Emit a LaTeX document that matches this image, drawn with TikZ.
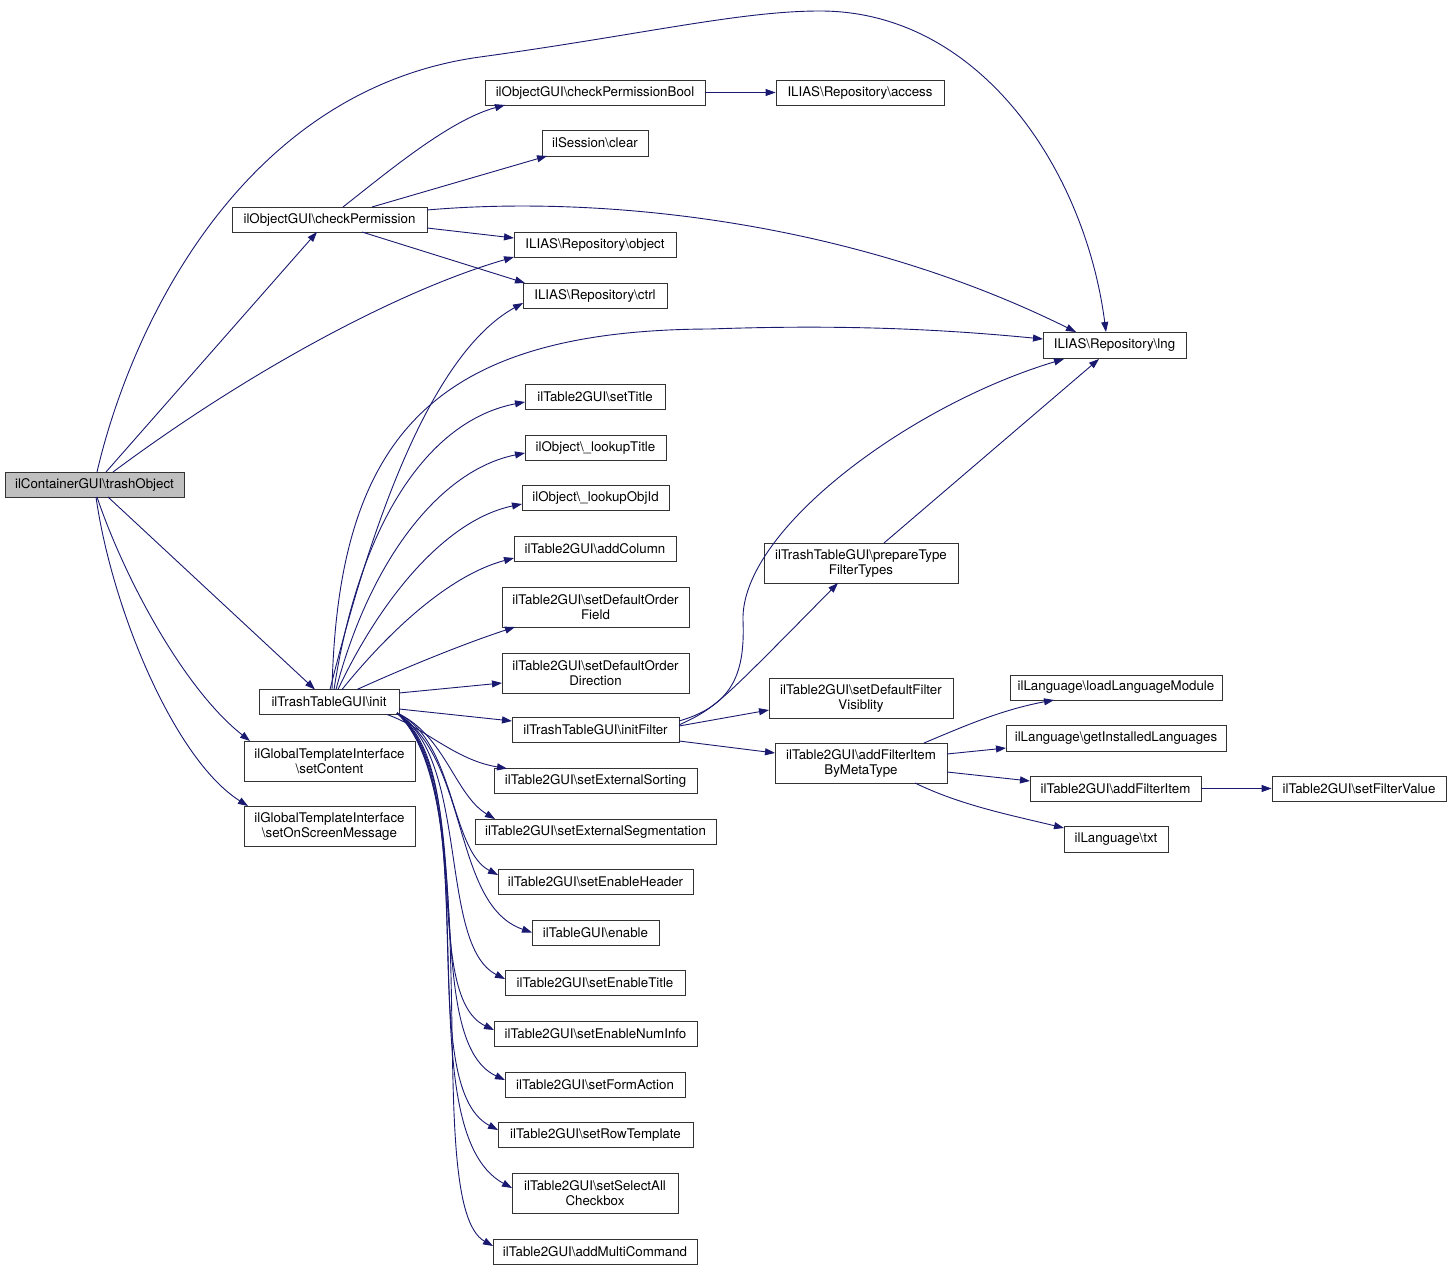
\documentclass[tikz,border=0pt]{standalone}
\usepackage{fontspec}
\setmainfont{TeX Gyre Heros}
\usetikzlibrary{arrows.meta,calc}
\definecolor{edgeblue}{HTML}{191970}
\definecolor{nodegray}{HTML}{BFBFBF}
\definecolor{boxline}{HTML}{333333}
\newcommand{\bksl}{\textbackslash{}}
\begin{document}
\begin{tikzpicture}[x=1pt,y=-1pt,
  fn/.style={draw=boxline, line width=0.9pt, fill=white, inner sep=0pt,
    minimum height=25pt, font=\fontsize{13.3}{15}\selectfont, align=center},
  fntwo/.style={fn, minimum height=40pt},
  call/.style={draw=edgeblue, line width=0.9pt, -{Triangle[length=10pt,width=7pt]}}]
\useasboundingbox (0,0) rectangle (1452,1273);
\fill[white] (0,0) rectangle (1452,1273);

% nodes
\node[fn, fill=nodegray, minimum width=179pt] (trash) at (94.5,484.5) {ilContainerGUI\bksl trashObject};
\node[fn, minimum width=220pt] (cpb) at (595,92.5) {ilObjectGUI\bksl checkPermissionBool};
\node[fn, minimum width=168pt] (access) at (860,92.5) {ILIAS\bksl Repository\bksl access};
\node[fn, minimum width=106pt, minimum height=26pt] (clear) at (595,143) {ilSession\bksl clear};
\node[fn, minimum width=195pt] (cp) at (329.5,219.5) {ilObjectGUI\bksl checkPermission};
\node[fn, minimum width=162pt] (obj) at (595,244.5) {ILIAS\bksl Repository\bksl object};
\node[fn, minimum width=144pt] (ctrl) at (595,295.5) {ILIAS\bksl Repository\bksl ctrl};
\node[fn, minimum width=143pt, minimum height=26pt] (lng) at (1114.5,345) {ILIAS\bksl Repository\bksl lng};
\node[fn, minimum width=140pt] (setTitle) at (595,396.5) {ilTable2GUI\bksl setTitle};
\node[fn, minimum width=141pt] (lkTitle) at (595.5,447.5) {ilObject\bksl\_lookupTitle};
\node[fn, minimum width=147pt] (lkObjId) at (595.5,498) {ilObject\bksl\_lookupObjId};
\node[fn, minimum width=162pt] (addCol) at (595,548.5) {ilTable2GUI\bksl addColumn};
\node[fntwo, minimum width=187pt] (sdoField) at (595.5,607) {ilTable2GUI\bksl setDefaultOrder\\Field};
\node[fntwo, minimum width=187pt] (sdoDir) at (595.5,673) {ilTable2GUI\bksl setDefaultOrder\\Direction};
\node[fn, minimum width=140pt] (init) at (329,702) {ilTrashTableGUI\bksl init};
\node[fn, minimum width=167pt] (initF) at (595.5,729.5) {ilTrashTableGUI\bksl initFilter};
\node[fn, minimum width=203pt] (sExtSort) at (595.5,781) {ilTable2GUI\bksl setExternalSorting};
\node[fn, minimum width=241pt] (sExtSeg) at (595.5,831.5) {ilTable2GUI\bksl setExternalSegmentation};
\node[fn, minimum width=195pt] (sEH) at (595.5,882) {ilTable2GUI\bksl setEnableHeader};
\node[fn, minimum width=127pt] (enable) at (595.5,932.5) {ilTableGUI\bksl enable};
\node[fn, minimum width=180pt] (sET) at (595,983) {ilTable2GUI\bksl setEnableTitle};
\node[fn, minimum width=203pt] (sENI) at (595.5,1034) {ilTable2GUI\bksl setEnableNumInfo};
\node[fn, minimum width=180pt] (sFA) at (595,1084.5) {ilTable2GUI\bksl setFormAction};
\node[fn, minimum width=195pt] (sRT) at (595.5,1135) {ilTable2GUI\bksl setRowTemplate};
\node[fntwo, minimum width=166pt] (sSAC) at (595,1193) {ilTable2GUI\bksl setSelectAll\\Checkbox};
\node[fn, minimum width=204pt] (aMC) at (595,1252) {ilTable2GUI\bksl addMultiCommand};
\node[fntwo, minimum width=171pt] (setContent) at (329.5,761) {ilGlobalTemplateInterface\\\bksl setContent};
\node[fntwo, minimum width=171pt] (setOSM) at (329.5,826) {ilGlobalTemplateInterface\\\bksl setOnScreenMessage};
\node[fntwo, minimum width=194pt] (ptft) at (861,563) {ilTrashTableGUI\bksl prepareType\\FilterTypes};
\node[fntwo, minimum width=184pt] (sdfv) at (861,698) {ilTable2GUI\bksl setDefaultFilter\\Visiblity};
\node[fntwo, minimum width=172pt] (afibmt) at (861,763) {ilTable2GUI\bksl addFilterItem\\ByMetaType};
\node[fn, minimum width=212pt] (llm) at (1116,687.5) {ilLanguage\bksl loadLanguageModule};
\node[fn, minimum width=220pt, minimum height=26pt] (gil) at (1116,738) {ilLanguage\bksl getInstalledLanguages};
\node[fn, minimum width=171pt] (afi) at (1115.5,788.5) {ilTable2GUI\bksl addFilterItem};
\node[fn, minimum width=174pt] (sfv) at (1359,788.5) {ilTable2GUI\bksl setFilterValue};
\node[fn, minimum width=104pt, minimum height=26pt] (txt) at (1116,839) {ilLanguage\bksl txt};

% edges from trashObject
\draw[call] ($(trash)+(2.5,-12.5)$) .. controls (130,330) and (240,90) .. (480,57)
  .. controls (640,35) and (740,11) .. (820,11)
  .. controls (980,11) and (1085,170) .. ($(lng)+(-8.5,-13)$);
\draw[call] ($(trash)+(11.5,-12.5)$) -- ($(cp)+(-12.5,12.5)$);
\draw[call] ($(trash)+(18.5,-12.5)$) .. controls (250,370) and (400,290) .. ($(obj)+(-81,12.5)$);
\draw[call] ($(trash)+(13.5,12.5)$) -- ($(init)+(-14,-12.5)$);
\draw[call] ($(trash)+(2.5,12.5)$) .. controls (125,580) and (185,690) .. ($(setContent)+(-79.5,-20)$);
\draw[call] ($(trash)+(1.5,12.5)$) .. controls (112,610) and (175,760) .. ($(setOSM)+(-81.5,-20)$);

% edges from checkPermission
\draw[call] ($(cp)+(13.5,-12.5)$) .. controls (390,170) and (450,120) .. ($(cpb)+(-90,12.5)$);
\draw[call] ($(cp)+(42.5,-12.5)$) -- ($(clear)+(-48,13)$);
\draw[call] ($(cp)+(97.5,-9.5)$) .. controls (600,195) and (850,220) .. ($(lng)+(-38.5,-13)$);
\draw[call] ($(cp)+(97.5,8.5)$) -- ($(obj)+(-81,-6.5)$);
\draw[call] ($(cp)+(32.5,12.5)$) -- ($(ctrl)+(-70,-12.5)$);
\draw[call] (cpb.east) -- (access.west);

% edges from init
\draw[call] ($(init)+(1,-12.5)$) .. controls (360,570) and (420,360) .. ($(ctrl)+(-72,7.5)$);
\draw[call] ($(init)+(3,-12.5)$) .. controls (338,440) and (430,330) .. (710,329)
  .. controls (850,324) and (950,330) .. ($(lng)+(-71.5,-6)$);
\draw[call] ($(init)+(5,-12.5)$) .. controls (360,520) and (430,420) .. ($(setTitle)+(-70,5.5)$);
\draw[call] ($(init)+(7,-12.5)$) .. controls (370,560) and (440,470) .. ($(lkTitle)+(-70.5,5.5)$);
\draw[call] ($(init)+(9,-12.5)$) .. controls (380,600) and (445,520) .. ($(lkObjId)+(-73.5,6)$);
\draw[call] ($(init)+(13,-12.5)$) .. controls (390,630) and (450,575) .. ($(addCol)+(-81,9.5)$);
\draw[call] ($(init)+(28,-12.5)$) .. controls (400,670) and (460,645) .. ($(sdoField)+(-80.5,20)$);
\draw[call] ($(init)+(70,-9)$) -- ($(sdoDir)+(-93.5,10)$);
\draw[call] ($(init)+(70,7)$) -- ($(initF)+(-83.5,-8.5)$);
\draw[call] ($(init)+(58,12.5)$) .. controls (425,728) and (455,760) .. ($(sExtSort)+(-88.5,-12.5)$);
\draw[call] ($(init)+(68,11)$) .. controls (445,735) and (455,795) .. ($(sExtSeg)+(-100.5,-12.5)$);
\draw[call] ($(init)+(68,11)$) .. controls (455,740) and (450,850) .. ($(sEH)+(-97.5,-7)$);
\draw[call] ($(init)+(68,11)$) .. controls (470,760) and (452,905) .. ($(enable)+(-63.5,0)$);
\draw[call] ($(init)+(68,11)$) .. controls (470,760) and (438,945) .. ($(sET)+(-90,-4)$);
\draw[call] ($(init)+(68,11)$) .. controls (475,770) and (420,995) .. ($(sENI)+(-101.5,-4)$);
\draw[call] ($(init)+(68,11)$) .. controls (480,780) and (418,1040) .. ($(sFA)+(-90,-4.5)$);
\draw[call] ($(init)+(68,11)$) .. controls (485,790) and (412,1085) .. ($(sRT)+(-97.5,-5)$);
\draw[call] ($(init)+(68,11)$) .. controls (490,800) and (405,1130) .. ($(sSAC)+(-83,-5)$);
\draw[call] ($(init)+(68,11)$) .. controls (490,800) and (420,1205) .. ($(aMC)+(-102,-6)$);

% edges from initFilter
\draw[call] ($(initF)+(83.5,-8.5)$) .. controls (735,705) and (745,670) .. (743,620)
  .. controls (741,530) and (910,405) .. ($(lng)+(-50.5,14)$);
\draw[call] ($(initF)+(83.5,-4.5)$) .. controls (715,708) .. ($(ptft)+(-23,20)$);
\draw[call] ($(initF)+(83.5,-3.5)$) -- ($(sdfv)+(-92,12)$);
\draw[call] ($(initF)+(83.5,11.5)$) -- ($(afibmt)+(-86,-10)$);

% other edges
\draw[call] ($(ptft)+(23,-20)$) -- ($(lng)+(-15.5,14)$);
\draw[call] ($(afibmt)+(63,-20)$) .. controls (960,728) and (1000,710) .. ($(llm)+(-62,12.5)$);
\draw[call] ($(afibmt)+(86,-9)$) -- ($(gil)+(-110,10)$);
\draw[call] ($(afibmt)+(86,9)$) -- ($(afi)+(-85.5,-7.5)$);
\draw[call] ($(afibmt)+(54,20)$) .. controls (960,805) and (1010,815) .. ($(txt)+(-52,-11)$);
\draw[call] (afi.east) -- (sfv.west);
\end{tikzpicture}
\end{document}
